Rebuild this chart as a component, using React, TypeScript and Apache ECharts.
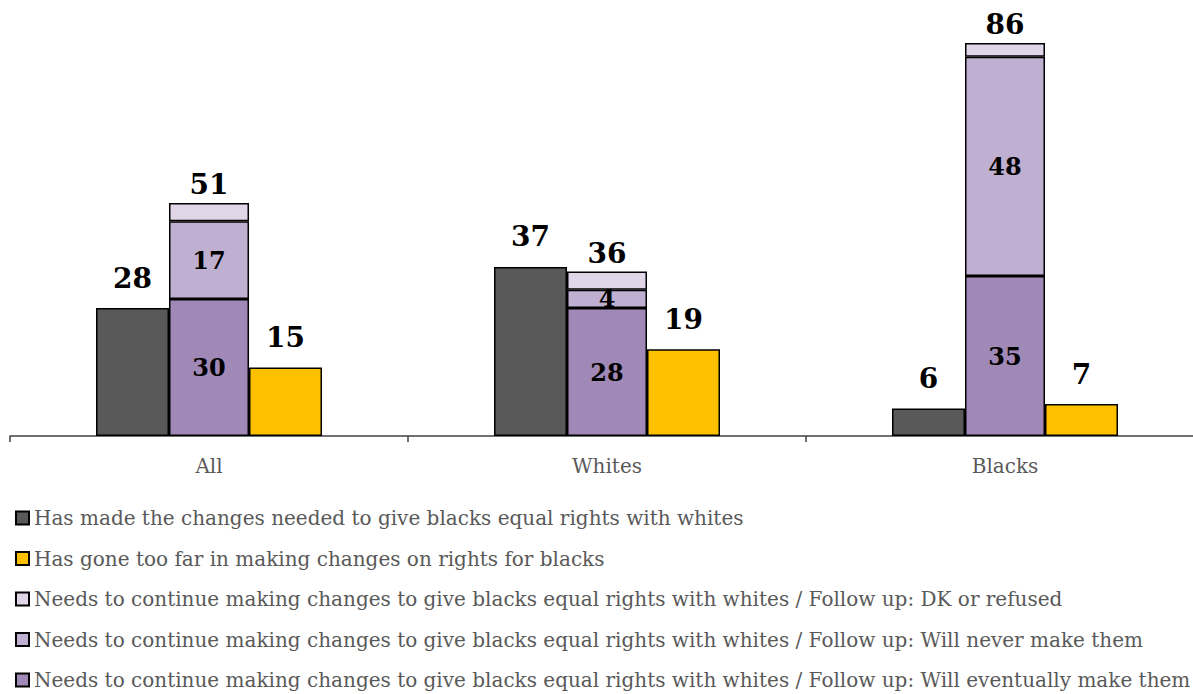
import React, { useEffect, useRef } from "react";
import * as echarts from "echarts";

const categories = ["All", "Whites", "Blacks"];
const hasMade = [28, 37, 6];
const goneTooFar = [15, 19, 7];
const eventually = [30, 28, 35];
const never = [17, 4, 48];
const dkRefused = [4, 4, 3];

const seriesNames = [
  "Has made the changes needed to give blacks equal rights with whites",
  "Has gone too far in making changes on rights for blacks",
  "Needs to continue making changes to give blacks equal rights with whites / Follow up: DK or refused",
  "Needs to continue making changes to give blacks equal rights with whites / Follow up: Will never make them",
  "Needs to continue making changes to give blacks equal rights with whites / Follow up: Will eventually make them",
];

const FONT = "DejaVu Serif";

export default function App() {
  const ref = useRef<HTMLDivElement>(null);
  useEffect(() => {
    if (!ref.current) return;
    const chart = echarts.init(ref.current, undefined, { renderer: "svg" });
    const border = { borderColor: "#000", borderWidth: 1.5 };
    const outerLabel = {
      show: true,
      position: "top" as const,
      distance: 16,
      fontFamily: FONT,
      fontWeight: "bold" as const,
      fontSize: 28,
      color: "#000",
    };
    const innerLabel = {
      show: true,
      position: "inside" as const,
      fontFamily: FONT,
      fontWeight: "bold" as const,
      fontSize: 24,
      color: "#000",
    };
    chart.setOption({
      animation: false,
      grid: { left: 10, width: 1194, top: 436 - 90 * 4.57, height: 90 * 4.57 },
      legend: {
        orient: "vertical",
        left: 15,
        top: 508,
        padding: 0,
        icon: "rect",
        itemWidth: 13,
        itemHeight: 13,
        itemGap: 20.5,
        height: 400,
        textStyle: { fontFamily: FONT, fontSize: 20, color: "#595959", lineHeight: 20 },
        data: [seriesNames[0], seriesNames[1], seriesNames[2], seriesNames[3], seriesNames[4]],
      },
      xAxis: {
        type: "category",
        data: categories,
        axisLine: { lineStyle: { color: "#404040", width: 1.5 } },
        axisTick: { show: true, length: 6, lineStyle: { color: "#404040", width: 1.5 } },
        axisLabel: { fontFamily: FONT, fontSize: 20, color: "#595959", margin: 20 },
      },
      yAxis: {
        type: "value",
        min: 0,
        max: 90,
        show: false,
        splitLine: { show: false },
      },
      series: [
        {
          name: seriesNames[0],
          type: "bar",
          data: hasMade,
          barWidth: 73,
          barGap: "0%",
          itemStyle: { color: "#595959", ...border },
          label: outerLabel,
        },
        {
          name: seriesNames[4],
          type: "bar",
          stack: "needs",
          data: eventually,
          barWidth: 80,
          barGap: "0%",
          itemStyle: { color: "#A089B6", ...border },
          label: innerLabel,
        },
        {
          name: seriesNames[3],
          type: "bar",
          stack: "needs",
          data: never,
          barWidth: 80,
          barGap: "0%",
          itemStyle: { color: "#BFAFD0", ...border },
          label: innerLabel,
        },
        {
          name: seriesNames[2],
          type: "bar",
          stack: "needs",
          data: dkRefused,
          barWidth: 80,
          barGap: "0%",
          itemStyle: { color: "#E0D6E8", ...border },
          label: {
            ...outerLabel,
            distance: 4,
            formatter: (p: any) =>
              String(eventually[p.dataIndex] + never[p.dataIndex] + dkRefused[p.dataIndex]),
          },
        },
        {
          name: seriesNames[1],
          type: "bar",
          data: goneTooFar,
          barWidth: 73,
          barGap: "0%",
          itemStyle: { color: "#FFC000", ...border },
          label: outerLabel,
        },
      ],
    });
    return () => chart.dispose();
  }, []);
  return (
    <div
      style={{
        position: "absolute",
        left: 0,
        top: 0,
        width: 1193,
        height: 694,
        overflow: "hidden",
        background: "#fff",
      }}
    >
      <div ref={ref} style={{ width: 1220, height: 694 }} />
    </div>
  );
}
